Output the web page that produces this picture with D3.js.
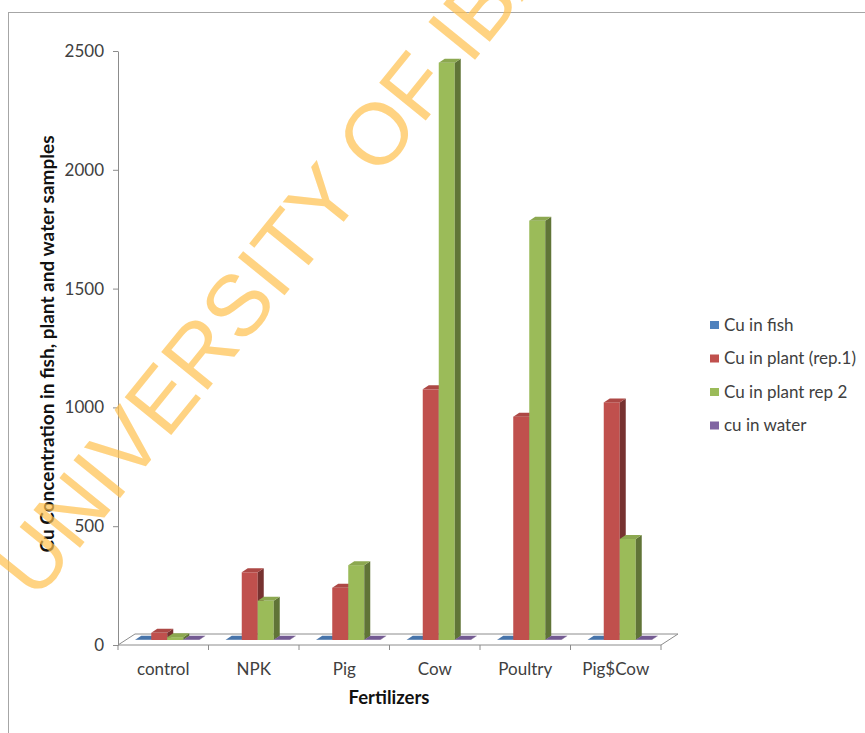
<!DOCTYPE html>
<html>
<head>
<meta charset="utf-8">
<script src="https://cdn.jsdelivr.net/npm/d3@7"></script>
<style>
  body { margin: 0; background: #fff; }
  svg { display: block; }
  text { font-family: Lato, "Open Sans", sans-serif; }
</style>
</head>
<body>
<svg id="chart" width="865" height="733"></svg>
<script>
// Data
const categories = ["control", "NPK", "Pig", "Cow", "Poultry", "Pig$Cow"];
const seriesNames = ["Cu in fish", "Cu in plant (rep.1)", "Cu in plant rep 2", "cu in water"];
const cuFish = [0.8, 0.8, 0.8, 0.8, 0.8, 0.8];
const cuPlantRep1 = [30, 285, 220, 1055, 940, 1000];
const cuPlantRep2 = [12, 165, 315, 2430, 1765, 425];
const cuWater = [0.8, 0.8, 0.8, 0.8, 0.8, 0.8];
const yTicks = [0, 500, 1000, 1500, 2000, 2500];
const colors = ["#4F81BD", "#C0504D", "#9BBB59", "#8064A2"];

const seriesValues = [cuFish, cuPlantRep1, cuPlantRep2, cuWater];

const svg = d3.select("#chart");

// outer frame of the chart area
svg.append("rect")
  .attr("x", 8.5).attr("y", 12.5)
  .attr("width", 1000).attr("height", 1000)
  .attr("fill", "none").attr("stroke", "#a6a6a6");

// Scales
const xScale = d3.scaleBand().domain(categories).range([118, 661]);
const yScale = d3.scaleLinear().domain([0, 2500]).range([645, 51]);
const groupWidth = 64;
const inner = d3.scaleBand().domain(seriesNames).range([0, groupWidth]);

// 3D offsets
const floorDx = 17, floorDy = -11;
const barShiftX = 4, barShiftY = -5;
const barDx = 6, barDy = -4;

const axisColor = "#8c8c8c";
const labelSize = 17;

// Floor
const x0 = xScale.range()[0], x1 = xScale.range()[1], y0 = yScale(0);
svg.append("polygon")
  .attr("points", [[x0, y0], [x1, y0], [x1 + floorDx, y0 + floorDy], [x0 + floorDx, y0 + floorDy]].map(p => p.join(",")).join(" "))
  .attr("fill", "#fff")
  .attr("stroke", axisColor);

// Y axis
const yAxis = d3.axisLeft(yScale).tickValues(yTicks).tickFormat(d3.format("d"))
  .tickSize(5).tickSizeOuter(0).tickPadding(9);
const gy = svg.append("g").attr("transform", `translate(${x0}, 0)`).call(yAxis);
gy.select(".domain").attr("stroke", axisColor);
gy.selectAll(".tick line").attr("stroke", axisColor);
gy.selectAll(".tick text").attr("font-size", labelSize).attr("fill", "#404040").style("font-family", "Lato");

// X axis labels and boundary ticks
const xAxis = d3.axisBottom(xScale).tickSize(0).tickPadding(18);
const gx = svg.append("g").attr("transform", `translate(0, ${y0})`).call(xAxis);
gx.select(".domain").remove();
gx.selectAll(".tick text").attr("font-size", labelSize).attr("fill", "#404040").style("font-family", "Lato");

const bounds = categories.map(c => xScale(c)).concat([x1]);
svg.selectAll(".xbound")
  .data(bounds)
  .enter()
  .append("line")
  .attr("class", "xbound")
  .attr("x1", d => d).attr("x2", d => d)
  .attr("y1", y0).attr("y2", y0 + 5)
  .attr("stroke", axisColor);

// Bars
function shade(c, k) {
  const col = d3.rgb(c);
  return d3.rgb(col.r * k, col.g * k, col.b * k).toString();
}

const bars = [];
categories.forEach((cat, ci) => {
  seriesNames.forEach((s, si) => {
    bars.push({ cat, series: s, si, value: seriesValues[si][ci] });
  });
});

const barW = inner.bandwidth();
const baseY = y0 + barShiftY;

const barG = svg.selectAll(".bar3d")
  .data(bars)
  .enter()
  .append("g")
  .attr("class", "bar3d");

function bx(d) { return xScale(d.cat) + (xScale.bandwidth() - groupWidth) / 2 + barShiftX + inner(d.series); }
function by(d) { return yScale(d.value) + barShiftY; }

// front face
barG.append("rect")
  .attr("x", d => bx(d))
  .attr("y", d => by(d))
  .attr("width", barW)
  .attr("height", d => baseY - by(d))
  .attr("fill", d => colors[d.si]);

// side face
barG.append("polygon")
  .attr("points", d => {
    const l = bx(d) + barW, t = by(d);
    return [[l, t], [l + barDx, t + barDy], [l + barDx, baseY + barDy], [l, baseY]].map(p => p.join(",")).join(" ");
  })
  .attr("fill", d => shade(colors[d.si], 0.62));

// top face
barG.append("polygon")
  .attr("points", d => {
    const l = bx(d), t = by(d);
    return [[l, t], [l + barW, t], [l + barW + barDx, t + barDy], [l + barDx, t + barDy]].map(p => p.join(",")).join(" ");
  })
  .attr("fill", d => shade(colors[d.si], 0.9));

// Axis titles
svg.append("text")
  .attr("transform", "translate(54, 344) rotate(-90)")
  .attr("text-anchor", "middle")
  .attr("font-size", 19)
  .attr("font-weight", "bold")
  .attr("fill", "#111")
  .text("Cu Concentration in fish, plant and water samples");

svg.append("text")
  .attr("x", 389).attr("y", 704)
  .attr("text-anchor", "middle")
  .attr("font-size", 18.5)
  .attr("font-weight", "bold")
  .attr("fill", "#111")
  .text("Fertilizers");

// Legend
const legend = svg.selectAll(".legend")
  .data(seriesNames)
  .enter()
  .append("g")
  .attr("class", "legend")
  .attr("transform", (d, i) => `translate(710, ${325 + i * 33.5})`);

legend.append("rect")
  .attr("x", 0).attr("y", -4)
  .attr("width", 9).attr("height", 8)
  .attr("fill", (d, i) => colors[i]);

legend.append("text")
  .attr("x", 14).attr("y", 0)
  .attr("dy", "0.35em")
  .attr("font-size", labelSize)
  .attr("fill", "#404040")
  .text(d => d);

// Watermark
svg.append("text")
  .attr("transform", "translate(36, 602) rotate(-51)")
  .attr("font-size", 87)
  .attr("fill", "#FFC04D")
  .attr("fill-opacity", 0.7)
  .style("font-family", "'Liberation Sans', Arial, sans-serif")
  .text("UNIVERSITY OF IBADAN");
</script>
</body>
</html>
